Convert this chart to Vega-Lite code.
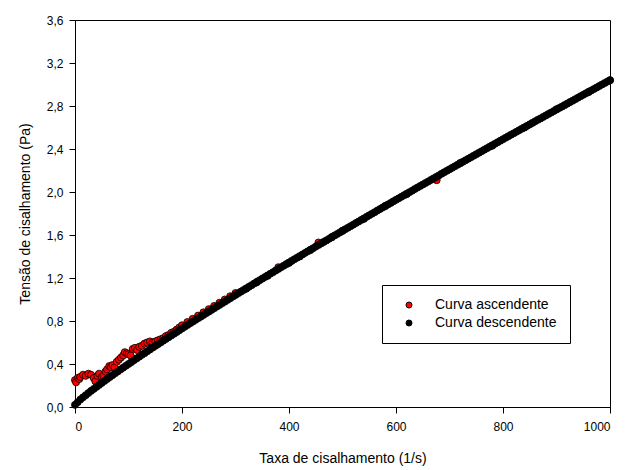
{
  "$schema": "https://vega.github.io/schema/vega-lite/v6.json",
  "width": 535,
  "height": 387,
  "autosize": {"type": "none"},
  "padding": {"left": 75, "top": 20, "right": 16, "bottom": 63},
  "background": "white",
  "config": {
    "view": {"stroke": "black", "strokeWidth": 1},
    "font": "Liberation Sans",
    "axis": {
      "grid": false,
      "domainColor": "black",
      "tickColor": "black",
      "tickSize": 6,
      "labelColor": "black",
      "titleColor": "black",
      "labelFont": "Liberation Sans",
      "titleFont": "Liberation Sans",
      "labelFontSize": 12,
      "titleFontSize": 14,
      "titleFontWeight": "normal"
    }
  },
  "data": {
    "values": [
      {"taxa": 0, "tensao": 0.25, "curva": "Curva ascendente"},
      {"taxa": 2, "tensao": 0.23, "curva": "Curva ascendente"},
      {"taxa": 5, "tensao": 0.27, "curva": "Curva ascendente"},
      {"taxa": 8, "tensao": 0.26, "curva": "Curva ascendente"},
      {"taxa": 10, "tensao": 0.28, "curva": "Curva ascendente"},
      {"taxa": 15, "tensao": 0.3, "curva": "Curva ascendente"},
      {"taxa": 20, "tensao": 0.29, "curva": "Curva ascendente"},
      {"taxa": 25, "tensao": 0.31, "curva": "Curva ascendente"},
      {"taxa": 30, "tensao": 0.3, "curva": "Curva ascendente"},
      {"taxa": 35, "tensao": 0.27, "curva": "Curva ascendente"},
      {"taxa": 38, "tensao": 0.24, "curva": "Curva ascendente"},
      {"taxa": 42, "tensao": 0.29, "curva": "Curva ascendente"},
      {"taxa": 45, "tensao": 0.31, "curva": "Curva ascendente"},
      {"taxa": 50, "tensao": 0.28, "curva": "Curva ascendente"},
      {"taxa": 53, "tensao": 0.29, "curva": "Curva ascendente"},
      {"taxa": 57, "tensao": 0.33, "curva": "Curva ascendente"},
      {"taxa": 60, "tensao": 0.35, "curva": "Curva ascendente"},
      {"taxa": 64, "tensao": 0.38, "curva": "Curva ascendente"},
      {"taxa": 67, "tensao": 0.37, "curva": "Curva ascendente"},
      {"taxa": 70, "tensao": 0.39, "curva": "Curva ascendente"},
      {"taxa": 74, "tensao": 0.37, "curva": "Curva ascendente"},
      {"taxa": 78, "tensao": 0.42, "curva": "Curva ascendente"},
      {"taxa": 82, "tensao": 0.44, "curva": "Curva ascendente"},
      {"taxa": 86, "tensao": 0.46, "curva": "Curva ascendente"},
      {"taxa": 90, "tensao": 0.48, "curva": "Curva ascendente"},
      {"taxa": 93, "tensao": 0.51, "curva": "Curva ascendente"},
      {"taxa": 97, "tensao": 0.5, "curva": "Curva ascendente"},
      {"taxa": 100, "tensao": 0.49, "curva": "Curva ascendente"},
      {"taxa": 104, "tensao": 0.48, "curva": "Curva ascendente"},
      {"taxa": 108, "tensao": 0.54, "curva": "Curva ascendente"},
      {"taxa": 112, "tensao": 0.55, "curva": "Curva ascendente"},
      {"taxa": 116, "tensao": 0.53, "curva": "Curva ascendente"},
      {"taxa": 120, "tensao": 0.56, "curva": "Curva ascendente"},
      {"taxa": 125, "tensao": 0.57, "curva": "Curva ascendente"},
      {"taxa": 130, "tensao": 0.59, "curva": "Curva ascendente"},
      {"taxa": 135, "tensao": 0.6, "curva": "Curva ascendente"},
      {"taxa": 140, "tensao": 0.61, "curva": "Curva ascendente"},
      {"taxa": 145, "tensao": 0.6, "curva": "Curva ascendente"},
      {"taxa": 150, "tensao": 0.61, "curva": "Curva ascendente"},
      {"taxa": 155, "tensao": 0.62, "curva": "Curva ascendente"},
      {"taxa": 160, "tensao": 0.63, "curva": "Curva ascendente"},
      {"taxa": 165, "tensao": 0.64, "curva": "Curva ascendente"},
      {"taxa": 170, "tensao": 0.66, "curva": "Curva ascendente"},
      {"taxa": 175, "tensao": 0.67, "curva": "Curva ascendente"},
      {"taxa": 180, "tensao": 0.69, "curva": "Curva ascendente"},
      {"taxa": 185, "tensao": 0.7, "curva": "Curva ascendente"},
      {"taxa": 190, "tensao": 0.72, "curva": "Curva ascendente"},
      {"taxa": 195, "tensao": 0.74, "curva": "Curva ascendente"},
      {"taxa": 200, "tensao": 0.76, "curva": "Curva ascendente"},
      {"taxa": 210, "tensao": 0.79, "curva": "Curva ascendente"},
      {"taxa": 220, "tensao": 0.82, "curva": "Curva ascendente"},
      {"taxa": 230, "tensao": 0.85, "curva": "Curva ascendente"},
      {"taxa": 240, "tensao": 0.88, "curva": "Curva ascendente"},
      {"taxa": 250, "tensao": 0.91, "curva": "Curva ascendente"},
      {"taxa": 260, "tensao": 0.94, "curva": "Curva ascendente"},
      {"taxa": 270, "tensao": 0.97, "curva": "Curva ascendente"},
      {"taxa": 280, "tensao": 1.0, "curva": "Curva ascendente"},
      {"taxa": 290, "tensao": 1.03, "curva": "Curva ascendente"},
      {"taxa": 300, "tensao": 1.06, "curva": "Curva ascendente"},
      {"taxa": 320, "tensao": 1.1, "curva": "Curva ascendente"},
      {"taxa": 340, "tensao": 1.16, "curva": "Curva ascendente"},
      {"taxa": 360, "tensao": 1.22, "curva": "Curva ascendente"},
      {"taxa": 380, "tensao": 1.3, "curva": "Curva ascendente"},
      {"taxa": 400, "tensao": 1.34, "curva": "Curva ascendente"},
      {"taxa": 420, "tensao": 1.4, "curva": "Curva ascendente"},
      {"taxa": 440, "tensao": 1.46, "curva": "Curva ascendente"},
      {"taxa": 455, "tensao": 1.53, "curva": "Curva ascendente"},
      {"taxa": 480, "tensao": 1.58, "curva": "Curva ascendente"},
      {"taxa": 500, "tensao": 1.64, "curva": "Curva ascendente"},
      {"taxa": 540, "tensao": 1.75, "curva": "Curva ascendente"},
      {"taxa": 580, "tensao": 1.87, "curva": "Curva ascendente"},
      {"taxa": 620, "tensao": 1.98, "curva": "Curva ascendente"},
      {"taxa": 676, "tensao": 2.11, "curva": "Curva ascendente"},
      {"taxa": 720, "tensao": 2.27, "curva": "Curva ascendente"},
      {"taxa": 780, "tensao": 2.43, "curva": "Curva ascendente"},
      {"taxa": 840, "tensao": 2.6, "curva": "Curva ascendente"},
      {"taxa": 900, "tensao": 2.77, "curva": "Curva ascendente"},
      {"taxa": 960, "tensao": 2.93, "curva": "Curva ascendente"},
      {"taxa": 1000, "tensao": 3.04, "curva": "Curva ascendente"},
      {"taxa": 0, "tensao": 0.02, "curva": "Curva descendente"},
      {"taxa": 5, "tensao": 0.045, "curva": "Curva descendente"},
      {"taxa": 10, "tensao": 0.07, "curva": "Curva descendente"},
      {"taxa": 15, "tensao": 0.09, "curva": "Curva descendente"},
      {"taxa": 20, "tensao": 0.11, "curva": "Curva descendente"},
      {"taxa": 25, "tensao": 0.13, "curva": "Curva descendente"},
      {"taxa": 30, "tensao": 0.15, "curva": "Curva descendente"},
      {"taxa": 35, "tensao": 0.168, "curva": "Curva descendente"},
      {"taxa": 40, "tensao": 0.187, "curva": "Curva descendente"},
      {"taxa": 45, "tensao": 0.205, "curva": "Curva descendente"},
      {"taxa": 50, "tensao": 0.224, "curva": "Curva descendente"},
      {"taxa": 55, "tensao": 0.242, "curva": "Curva descendente"},
      {"taxa": 60, "tensao": 0.26, "curva": "Curva descendente"},
      {"taxa": 65, "tensao": 0.278, "curva": "Curva descendente"},
      {"taxa": 70, "tensao": 0.296, "curva": "Curva descendente"},
      {"taxa": 75, "tensao": 0.314, "curva": "Curva descendente"},
      {"taxa": 80, "tensao": 0.331, "curva": "Curva descendente"},
      {"taxa": 85, "tensao": 0.349, "curva": "Curva descendente"},
      {"taxa": 90, "tensao": 0.366, "curva": "Curva descendente"},
      {"taxa": 95, "tensao": 0.383, "curva": "Curva descendente"},
      {"taxa": 100, "tensao": 0.4, "curva": "Curva descendente"},
      {"taxa": 105, "tensao": 0.417, "curva": "Curva descendente"},
      {"taxa": 110, "tensao": 0.434, "curva": "Curva descendente"},
      {"taxa": 115, "tensao": 0.451, "curva": "Curva descendente"},
      {"taxa": 120, "tensao": 0.468, "curva": "Curva descendente"},
      {"taxa": 125, "tensao": 0.485, "curva": "Curva descendente"},
      {"taxa": 130, "tensao": 0.501, "curva": "Curva descendente"},
      {"taxa": 135, "tensao": 0.518, "curva": "Curva descendente"},
      {"taxa": 140, "tensao": 0.535, "curva": "Curva descendente"},
      {"taxa": 145, "tensao": 0.552, "curva": "Curva descendente"},
      {"taxa": 150, "tensao": 0.568, "curva": "Curva descendente"},
      {"taxa": 155, "tensao": 0.584, "curva": "Curva descendente"},
      {"taxa": 160, "tensao": 0.6, "curva": "Curva descendente"},
      {"taxa": 165, "tensao": 0.617, "curva": "Curva descendente"},
      {"taxa": 170, "tensao": 0.633, "curva": "Curva descendente"},
      {"taxa": 175, "tensao": 0.649, "curva": "Curva descendente"},
      {"taxa": 180, "tensao": 0.665, "curva": "Curva descendente"},
      {"taxa": 185, "tensao": 0.681, "curva": "Curva descendente"},
      {"taxa": 190, "tensao": 0.697, "curva": "Curva descendente"},
      {"taxa": 195, "tensao": 0.714, "curva": "Curva descendente"},
      {"taxa": 200, "tensao": 0.73, "curva": "Curva descendente"},
      {"taxa": 205, "tensao": 0.746, "curva": "Curva descendente"},
      {"taxa": 210, "tensao": 0.762, "curva": "Curva descendente"},
      {"taxa": 215, "tensao": 0.778, "curva": "Curva descendente"},
      {"taxa": 220, "tensao": 0.794, "curva": "Curva descendente"},
      {"taxa": 225, "tensao": 0.81, "curva": "Curva descendente"},
      {"taxa": 230, "tensao": 0.825, "curva": "Curva descendente"},
      {"taxa": 235, "tensao": 0.84, "curva": "Curva descendente"},
      {"taxa": 240, "tensao": 0.856, "curva": "Curva descendente"},
      {"taxa": 245, "tensao": 0.872, "curva": "Curva descendente"},
      {"taxa": 250, "tensao": 0.887, "curva": "Curva descendente"},
      {"taxa": 255, "tensao": 0.903, "curva": "Curva descendente"},
      {"taxa": 260, "tensao": 0.918, "curva": "Curva descendente"},
      {"taxa": 265, "tensao": 0.934, "curva": "Curva descendente"},
      {"taxa": 270, "tensao": 0.949, "curva": "Curva descendente"},
      {"taxa": 275, "tensao": 0.965, "curva": "Curva descendente"},
      {"taxa": 280, "tensao": 0.98, "curva": "Curva descendente"},
      {"taxa": 285, "tensao": 0.996, "curva": "Curva descendente"},
      {"taxa": 290, "tensao": 1.011, "curva": "Curva descendente"},
      {"taxa": 295, "tensao": 1.027, "curva": "Curva descendente"},
      {"taxa": 300, "tensao": 1.042, "curva": "Curva descendente"},
      {"taxa": 305, "tensao": 1.058, "curva": "Curva descendente"},
      {"taxa": 310, "tensao": 1.073, "curva": "Curva descendente"},
      {"taxa": 315, "tensao": 1.088, "curva": "Curva descendente"},
      {"taxa": 320, "tensao": 1.103, "curva": "Curva descendente"},
      {"taxa": 325, "tensao": 1.118, "curva": "Curva descendente"},
      {"taxa": 330, "tensao": 1.133, "curva": "Curva descendente"},
      {"taxa": 335, "tensao": 1.149, "curva": "Curva descendente"},
      {"taxa": 340, "tensao": 1.164, "curva": "Curva descendente"},
      {"taxa": 345, "tensao": 1.179, "curva": "Curva descendente"},
      {"taxa": 350, "tensao": 1.194, "curva": "Curva descendente"},
      {"taxa": 355, "tensao": 1.209, "curva": "Curva descendente"},
      {"taxa": 360, "tensao": 1.224, "curva": "Curva descendente"},
      {"taxa": 365, "tensao": 1.239, "curva": "Curva descendente"},
      {"taxa": 370, "tensao": 1.254, "curva": "Curva descendente"},
      {"taxa": 375, "tensao": 1.269, "curva": "Curva descendente"},
      {"taxa": 380, "tensao": 1.284, "curva": "Curva descendente"},
      {"taxa": 385, "tensao": 1.299, "curva": "Curva descendente"},
      {"taxa": 390, "tensao": 1.314, "curva": "Curva descendente"},
      {"taxa": 395, "tensao": 1.329, "curva": "Curva descendente"},
      {"taxa": 400, "tensao": 1.344, "curva": "Curva descendente"},
      {"taxa": 405, "tensao": 1.359, "curva": "Curva descendente"},
      {"taxa": 410, "tensao": 1.374, "curva": "Curva descendente"},
      {"taxa": 415, "tensao": 1.389, "curva": "Curva descendente"},
      {"taxa": 420, "tensao": 1.403, "curva": "Curva descendente"},
      {"taxa": 425, "tensao": 1.418, "curva": "Curva descendente"},
      {"taxa": 430, "tensao": 1.433, "curva": "Curva descendente"},
      {"taxa": 435, "tensao": 1.448, "curva": "Curva descendente"},
      {"taxa": 440, "tensao": 1.462, "curva": "Curva descendente"},
      {"taxa": 445, "tensao": 1.477, "curva": "Curva descendente"},
      {"taxa": 450, "tensao": 1.492, "curva": "Curva descendente"},
      {"taxa": 455, "tensao": 1.507, "curva": "Curva descendente"},
      {"taxa": 460, "tensao": 1.521, "curva": "Curva descendente"},
      {"taxa": 465, "tensao": 1.536, "curva": "Curva descendente"},
      {"taxa": 470, "tensao": 1.55, "curva": "Curva descendente"},
      {"taxa": 475, "tensao": 1.565, "curva": "Curva descendente"},
      {"taxa": 480, "tensao": 1.58, "curva": "Curva descendente"},
      {"taxa": 485, "tensao": 1.595, "curva": "Curva descendente"},
      {"taxa": 490, "tensao": 1.609, "curva": "Curva descendente"},
      {"taxa": 495, "tensao": 1.624, "curva": "Curva descendente"},
      {"taxa": 500, "tensao": 1.638, "curva": "Curva descendente"},
      {"taxa": 505, "tensao": 1.653, "curva": "Curva descendente"},
      {"taxa": 510, "tensao": 1.667, "curva": "Curva descendente"},
      {"taxa": 515, "tensao": 1.682, "curva": "Curva descendente"},
      {"taxa": 520, "tensao": 1.696, "curva": "Curva descendente"},
      {"taxa": 525, "tensao": 1.711, "curva": "Curva descendente"},
      {"taxa": 530, "tensao": 1.725, "curva": "Curva descendente"},
      {"taxa": 535, "tensao": 1.74, "curva": "Curva descendente"},
      {"taxa": 540, "tensao": 1.754, "curva": "Curva descendente"},
      {"taxa": 545, "tensao": 1.769, "curva": "Curva descendente"},
      {"taxa": 550, "tensao": 1.783, "curva": "Curva descendente"},
      {"taxa": 555, "tensao": 1.798, "curva": "Curva descendente"},
      {"taxa": 560, "tensao": 1.812, "curva": "Curva descendente"},
      {"taxa": 565, "tensao": 1.827, "curva": "Curva descendente"},
      {"taxa": 570, "tensao": 1.841, "curva": "Curva descendente"},
      {"taxa": 575, "tensao": 1.856, "curva": "Curva descendente"},
      {"taxa": 580, "tensao": 1.87, "curva": "Curva descendente"},
      {"taxa": 585, "tensao": 1.884, "curva": "Curva descendente"},
      {"taxa": 590, "tensao": 1.898, "curva": "Curva descendente"},
      {"taxa": 595, "tensao": 1.913, "curva": "Curva descendente"},
      {"taxa": 600, "tensao": 1.927, "curva": "Curva descendente"},
      {"taxa": 605, "tensao": 1.941, "curva": "Curva descendente"},
      {"taxa": 610, "tensao": 1.955, "curva": "Curva descendente"},
      {"taxa": 615, "tensao": 1.97, "curva": "Curva descendente"},
      {"taxa": 620, "tensao": 1.984, "curva": "Curva descendente"},
      {"taxa": 625, "tensao": 1.998, "curva": "Curva descendente"},
      {"taxa": 630, "tensao": 2.012, "curva": "Curva descendente"},
      {"taxa": 635, "tensao": 2.027, "curva": "Curva descendente"},
      {"taxa": 640, "tensao": 2.041, "curva": "Curva descendente"},
      {"taxa": 645, "tensao": 2.055, "curva": "Curva descendente"},
      {"taxa": 650, "tensao": 2.069, "curva": "Curva descendente"},
      {"taxa": 655, "tensao": 2.083, "curva": "Curva descendente"},
      {"taxa": 660, "tensao": 2.097, "curva": "Curva descendente"},
      {"taxa": 665, "tensao": 2.112, "curva": "Curva descendente"},
      {"taxa": 670, "tensao": 2.126, "curva": "Curva descendente"},
      {"taxa": 675, "tensao": 2.14, "curva": "Curva descendente"},
      {"taxa": 680, "tensao": 2.154, "curva": "Curva descendente"},
      {"taxa": 685, "tensao": 2.169, "curva": "Curva descendente"},
      {"taxa": 690, "tensao": 2.183, "curva": "Curva descendente"},
      {"taxa": 695, "tensao": 2.197, "curva": "Curva descendente"},
      {"taxa": 700, "tensao": 2.211, "curva": "Curva descendente"},
      {"taxa": 705, "tensao": 2.225, "curva": "Curva descendente"},
      {"taxa": 710, "tensao": 2.239, "curva": "Curva descendente"},
      {"taxa": 715, "tensao": 2.253, "curva": "Curva descendente"},
      {"taxa": 720, "tensao": 2.267, "curva": "Curva descendente"},
      {"taxa": 725, "tensao": 2.281, "curva": "Curva descendente"},
      {"taxa": 730, "tensao": 2.295, "curva": "Curva descendente"},
      {"taxa": 735, "tensao": 2.309, "curva": "Curva descendente"},
      {"taxa": 740, "tensao": 2.323, "curva": "Curva descendente"},
      {"taxa": 745, "tensao": 2.337, "curva": "Curva descendente"},
      {"taxa": 750, "tensao": 2.351, "curva": "Curva descendente"},
      {"taxa": 755, "tensao": 2.365, "curva": "Curva descendente"},
      {"taxa": 760, "tensao": 2.379, "curva": "Curva descendente"},
      {"taxa": 765, "tensao": 2.393, "curva": "Curva descendente"},
      {"taxa": 770, "tensao": 2.407, "curva": "Curva descendente"},
      {"taxa": 775, "tensao": 2.421, "curva": "Curva descendente"},
      {"taxa": 780, "tensao": 2.435, "curva": "Curva descendente"},
      {"taxa": 785, "tensao": 2.449, "curva": "Curva descendente"},
      {"taxa": 790, "tensao": 2.463, "curva": "Curva descendente"},
      {"taxa": 795, "tensao": 2.477, "curva": "Curva descendente"},
      {"taxa": 800, "tensao": 2.491, "curva": "Curva descendente"},
      {"taxa": 805, "tensao": 2.505, "curva": "Curva descendente"},
      {"taxa": 810, "tensao": 2.519, "curva": "Curva descendente"},
      {"taxa": 815, "tensao": 2.533, "curva": "Curva descendente"},
      {"taxa": 820, "tensao": 2.546, "curva": "Curva descendente"},
      {"taxa": 825, "tensao": 2.56, "curva": "Curva descendente"},
      {"taxa": 830, "tensao": 2.574, "curva": "Curva descendente"},
      {"taxa": 835, "tensao": 2.588, "curva": "Curva descendente"},
      {"taxa": 840, "tensao": 2.601, "curva": "Curva descendente"},
      {"taxa": 845, "tensao": 2.615, "curva": "Curva descendente"},
      {"taxa": 850, "tensao": 2.629, "curva": "Curva descendente"},
      {"taxa": 855, "tensao": 2.643, "curva": "Curva descendente"},
      {"taxa": 860, "tensao": 2.657, "curva": "Curva descendente"},
      {"taxa": 865, "tensao": 2.671, "curva": "Curva descendente"},
      {"taxa": 870, "tensao": 2.684, "curva": "Curva descendente"},
      {"taxa": 875, "tensao": 2.698, "curva": "Curva descendente"},
      {"taxa": 880, "tensao": 2.712, "curva": "Curva descendente"},
      {"taxa": 885, "tensao": 2.726, "curva": "Curva descendente"},
      {"taxa": 890, "tensao": 2.739, "curva": "Curva descendente"},
      {"taxa": 895, "tensao": 2.753, "curva": "Curva descendente"},
      {"taxa": 900, "tensao": 2.767, "curva": "Curva descendente"},
      {"taxa": 905, "tensao": 2.781, "curva": "Curva descendente"},
      {"taxa": 910, "tensao": 2.794, "curva": "Curva descendente"},
      {"taxa": 915, "tensao": 2.808, "curva": "Curva descendente"},
      {"taxa": 920, "tensao": 2.822, "curva": "Curva descendente"},
      {"taxa": 925, "tensao": 2.836, "curva": "Curva descendente"},
      {"taxa": 930, "tensao": 2.849, "curva": "Curva descendente"},
      {"taxa": 935, "tensao": 2.863, "curva": "Curva descendente"},
      {"taxa": 940, "tensao": 2.877, "curva": "Curva descendente"},
      {"taxa": 945, "tensao": 2.891, "curva": "Curva descendente"},
      {"taxa": 950, "tensao": 2.904, "curva": "Curva descendente"},
      {"taxa": 955, "tensao": 2.918, "curva": "Curva descendente"},
      {"taxa": 960, "tensao": 2.931, "curva": "Curva descendente"},
      {"taxa": 965, "tensao": 2.945, "curva": "Curva descendente"},
      {"taxa": 970, "tensao": 2.958, "curva": "Curva descendente"},
      {"taxa": 975, "tensao": 2.972, "curva": "Curva descendente"},
      {"taxa": 980, "tensao": 2.986, "curva": "Curva descendente"},
      {"taxa": 985, "tensao": 3.0, "curva": "Curva descendente"},
      {"taxa": 990, "tensao": 3.013, "curva": "Curva descendente"},
      {"taxa": 995, "tensao": 3.027, "curva": "Curva descendente"},
      {"taxa": 1000, "tensao": 3.04, "curva": "Curva descendente"}
    ]
  },
  "mark": {"type": "point", "shape": "circle", "filled": true, "size": 50, "stroke": "black", "strokeWidth": 0.8, "opacity": 1, "clip": false},
  "encoding": {
    "x": {
      "field": "taxa", "type": "quantitative",
      "scale": {"domain": [0, 1000], "nice": false, "zero": false},
      "axis": {"values": [0, 200, 400, 600, 800, 1000], "format": "d", "title": "Taxa de cisalhamento (1/s)", "labelPadding": 8, "titlePadding": 19}
    },
    "y": {
      "field": "tensao", "type": "quantitative",
      "scale": {"domain": [0, 3.6], "nice": false, "zero": false},
      "axis": {"values": [0, 0.4, 0.8, 1.2, 1.6, 2.0, 2.4, 2.8, 3.2, 3.6], "labelExpr": "replace(format(datum.value, '.1f'), '.', ',')", "title": "Tensão de cisalhamento (Pa)", "labelPadding": 6, "titlePadding": 14}
    },
    "fill": {
      "field": "curva", "type": "nominal",
      "scale": {"domain": ["Curva ascendente", "Curva descendente"], "range": ["#ff0000", "#000000"]},
      "legend": {
        "title": null, "orient": "none", "legendX": 307, "legendY": 265,
        "strokeColor": "black", "fillColor": "white", "padding": 13,
        "symbolType": "circle", "symbolSize": 36, "symbolStrokeColor": "black", "symbolStrokeWidth": 1,
        "symbolOffset": 7, "labelOffset": 19, "rowPadding": 4,
        "labelFont": "Liberation Sans", "labelFontSize": 14, "labelColor": "black", "labelLimit": 300
      }
    }
  }
}
